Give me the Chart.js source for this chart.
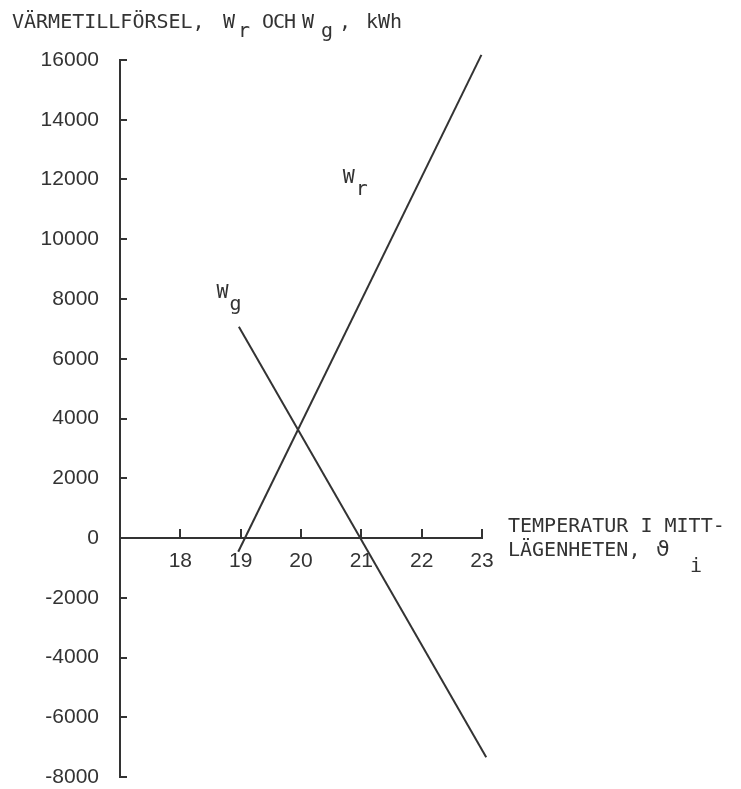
<!DOCTYPE html>
<html><head><meta charset="utf-8">
<script src="https://cdn.jsdelivr.net/npm/chart.js@4/dist/chart.umd.min.js"></script>
<style>html,body{margin:0;padding:0;background:#fff;}#wrap{width:741px;height:789px;}</style>
</head><body><div id="wrap"><canvas id="c" width="741" height="789"></canvas></div>
<script>
// ---- data ----
const xTickValues = [18, 19, 20, 21, 22, 23];
const yTickValues = [-8000, -6000, -4000, -2000, 0, 2000, 4000, 6000, 8000, 10000, 12000, 14000, 16000];
const wrTemperature = [18.96, 22.99];
const wrHeat = [-460, 16170];
const wgTemperature = [18.97, 23.07];
const wgHeat = [7070, -7340];
const yAxisTitle = ['VÄRMETILLFÖRSEL,', 'W', 'r', 'OCH', 'W', 'g', ',', 'kWh'];
const xAxisTitle = ['TEMPERATUR I MITT-', 'LÄGENHETEN,', 'ϑ', 'i'];
const seriesNames = ['W', 'r', 'W', 'g'];
const seriesLabelAt = [[20.69, 11880], [18.60, 8030]];

const INK = '#333333';
const MONO = '"DejaVu Sans Mono", monospace';
const SANS = '"Liberation Sans", Arial, sans-serif';

const toPts = (xs, ys) => xs.map((x, i) => ({x, y: ys[i]}));

const decor = {
  id: 'decor',
  afterDraw(chart) {
    const ctx = chart.ctx, xs = chart.scales.x, ys = chart.scales.y;
    const y0 = ys.getPixelForValue(0);
    ctx.save();
    ctx.strokeStyle = INK; ctx.lineWidth = 2; ctx.lineCap = 'butt';
    xTickValues.forEach(v => {
      const px = Math.round(xs.getPixelForValue(v));
      ctx.beginPath(); ctx.moveTo(px, y0); ctx.lineTo(px, y0 - 9); ctx.stroke();
    });
    yTickValues.forEach(v => {
      if (v === 0) return;
      const py = Math.round(ys.getPixelForValue(v));
      ctx.beginPath(); ctx.moveTo(xs.left, py); ctx.lineTo(xs.left + 7, py); ctx.stroke();
    });
    ctx.fillStyle = INK;
    ctx.font = '20px ' + MONO;
    ctx.textBaseline = 'alphabetic'; ctx.textAlign = 'left';
    // y axis title (top-left)
    const t = yAxisTitle;
    ctx.fillText(t[0], 12, 28);
    ctx.fillText(t[1], 223, 28);
    ctx.fillText(t[2], 238, 37);
    ctx.letterSpacing = '-1px';
    ctx.fillText(t[3], 262, 28);
    ctx.letterSpacing = '0px';
    ctx.fillText(t[4], 302, 28);
    ctx.fillText(t[5], 321, 37);
    ctx.fillText(t[6], 339, 28);
    ctx.fillText(t[7], 366, 28);
    // x axis title (right of axis)
    const xt = xAxisTitle;
    const ax = xs.right + 26;
    ctx.fillText(xt[0], ax, y0 - 6);
    ctx.fillText(xt[1], ax, y0 + 18);
    ctx.font = '22px "DejaVu Sans", serif';
    ctx.fillText(xt[2], ax + 148, y0 + 18);
    ctx.font = '20px ' + MONO;
    ctx.fillText(xt[3], ax + 182, y0 + 34);
    // series labels
    seriesLabelAt.forEach((p, i) => {
      const px = xs.getPixelForValue(p[0]), py = ys.getPixelForValue(p[1]);
      ctx.fillText(seriesNames[2 * i], px, py);
      ctx.fillText(seriesNames[2 * i + 1], px + 13, py + 12);
    });
    ctx.restore();
  }
};

new Chart(document.getElementById('c'), {
  type: 'scatter',
  data: {
    datasets: [
      {label: 'Wr', data: toPts(wrTemperature, wrHeat), showLine: true, borderColor: INK, borderWidth: 2, pointRadius: 0, clip: false},
      {label: 'Wg', data: toPts(wgTemperature, wgHeat), showLine: true, borderColor: INK, borderWidth: 2, pointRadius: 0, clip: false}
    ]
  },
  options: {
    responsive: false, animation: false, devicePixelRatio: 1,
    layout: {padding: {top: 60, bottom: 12, left: 0, right: 259}},
    plugins: {legend: {display: false}, tooltip: {enabled: false}},
    scales: {
      x: {
        type: 'linear', min: 17, max: 23, position: {y: 0},
        afterFit(s) { s.height = 0; },
        grid: {display: false, drawTicks: false},
        border: {display: true, color: INK, width: 2},
        ticks: {stepSize: 1, autoSkip: false, maxRotation: 0, padding: 11, color: INK,
          font: {family: SANS, size: 21},
          callback: v => (xTickValues.includes(v) ? String(v) : '')}
      },
      y: {
        type: 'linear', min: -8000, max: 16000, position: 'left',
        afterFit(s) { s.width = 120; },
        grid: {display: false, drawTicks: true, tickLength: 21},
        border: {display: true, color: INK, width: 2},
        ticks: {stepSize: 2000, autoSkip: false, padding: 0, color: INK,
          font: {family: SANS, size: 21, lineHeight: 1},
          callback: v => (yTickValues.includes(v) ? String(v) : '')}
      }
    }
  },
  plugins: [decor]
});
</script></body></html>
